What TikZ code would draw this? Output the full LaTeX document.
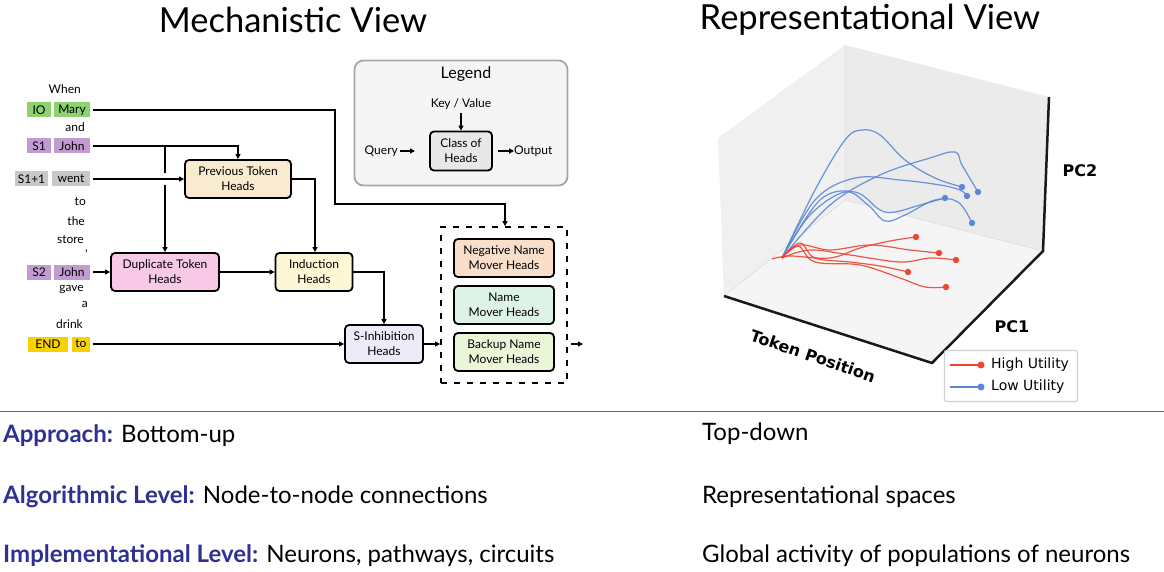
\documentclass[tikz,border=0pt]{standalone}
\usepackage{fontspec}
\setmainfont{Lato}
\newfontfamily\plotfont{DejaVu Sans}
\usetikzlibrary{arrows.meta}
\definecolor{hdblue}{HTML}{2E3192}
\definecolor{iogreen}{HTML}{8DD26E}
\definecolor{spurple}{HTML}{C39BD3}
\definecolor{sgrey}{HTML}{C8C8C8}
\definecolor{endyel}{HTML}{F7D100}
\definecolor{redc}{HTML}{EE4433}
\definecolor{bluec}{HTML}{5A88D6}
\definecolor{fprev}{HTML}{F8EBD0}
\definecolor{fdup}{HTML}{F7C9E6}
\definecolor{find}{HTML}{FEF7D6}
\definecolor{finh}{HTML}{ECEBF7}
\definecolor{fneg}{HTML}{F9DECA}
\definecolor{fname}{HTML}{DDF3E8}
\definecolor{fback}{HTML}{EBF5D8}
\tikzset{
  x=1pt,y=-1pt,
  tok/.style={inner sep=0pt,minimum height=15pt,font=\fontsize{12}{13}\selectfont},
  word/.style={inner sep=0pt,anchor=east,font=\fontsize{12}{13}\selectfont},
  head/.style={draw=black,line width=1.8pt,rounded corners=4pt,align=center,inner sep=0pt,font=\fontsize{12}{15}\selectfont},
  conn/.style={line width=1.4pt,-{Triangle[length=5pt,width=5pt]}},
  plain/.style={line width=1.4pt},
  body/.style={anchor=west,inner sep=0pt,font=\fontsize{24}{28}\selectfont},
  curveR/.style={redc,line width=1.2pt,opacity=0.9},
  curveB/.style={bluec,line width=1.2pt,opacity=0.9},
  axl/.style={font=\plotfont\bfseries\fontsize{16}{18}\selectfont},
}
\begin{document}
\begin{tikzpicture}
\useasboundingbox (0,0) rectangle (1164,572);
% titles
\node[font=\fontsize{34.5}{40}\selectfont] (t1) at (293,20) {Mechanistic View};
\node[font=\fontsize{34.5}{40}\selectfont] (t2) at (870,20) {Representational View};
% tokens
\node[word] (w1) at (81,89) {When};
\node[tok,fill=iogreen,minimum width=24pt] (io) at (39,110) {IO};
\node[tok,fill=iogreen,minimum width=36pt] (mary) at (72,110) {Mary};
\node[word] (w2) at (85,127) {and};
\node[tok,fill=spurple,minimum width=24pt] (s1) at (39,146) {S1};
\node[tok,fill=spurple,minimum width=36pt] (john1) at (72,146) {John};
\node[tok,fill=sgrey,minimum width=33pt] (s11) at (31.5,179) {S1+1};
\node[tok,fill=sgrey,minimum width=38pt] (went) at (71,179) {went};
\node[word] (w3) at (86,202) {to};
\node[word] (w4) at (85,221) {the};
\node[word] (w5) at (84,240) {store};
\node[word] (w6) at (88,252) {,};
\node[tok,fill=spurple,minimum width=24pt] (s2) at (39,272) {S2};
\node[tok,fill=spurple,minimum width=36pt] (john2) at (72,272) {John};
\node[word] (w7) at (84,290) {gave};
\node[word] (w8) at (88,304) {a};
\node[word] (w9) at (83,324) {drink};
\node[tok,fill=endyel,minimum width=40pt] (endt) at (48,344) {END};
\node[tok,fill=endyel,minimum width=18pt] (tot) at (81,344) {to};
% heads
\node[head,fill=fprev,minimum width=106pt,minimum height=38pt] (prev) at (238,179) {Previous Token\\Heads};
\node[head,fill=fdup,minimum width=108pt,minimum height=38pt] (dup) at (165,272) {Duplicate Token\\Heads};
\node[head,fill=find,minimum width=77pt,minimum height=38pt] (ind) at (314,272) {Induction\\Heads};
\node[head,fill=finh,minimum width=78pt,minimum height=38pt] (inh) at (384,344) {S-Inhibition\\Heads};
\node[draw=black,line width=1.8pt,dash pattern=on 6pt off 7pt,minimum width=126pt,minimum height=156pt,inner sep=0pt] (grp) at (504,305) {};
\node[head,fill=fneg,minimum width=100pt,minimum height=38pt] (neg) at (504,258) {Negative Name\\Mover Heads};
\node[head,fill=fname,minimum width=100pt,minimum height=38pt] (nm) at (504,305) {Name\\Mover Heads};
\node[head,fill=fback,minimum width=100pt,minimum height=38pt] (bk) at (504,352) {Backup Name\\Mover Heads};
\coordinate (outp) at (583,344);
% connectors
\draw[conn] (mary.east) ++(3,0) -- (335,110) -- (335,204) -- (505,204) -- (grp.north -| 505,0);
\draw[plain] (john1.east) ++(3,0) -- (165,146);
\draw[conn] (165,146) -- (238,146) -- (prev.north);
\draw[plain] (165,146) -- (165,173);
\draw[conn] (165,185) -- (dup.north);
\draw[conn] (went.east) ++(3,0) -- (prev.west);
\draw[conn] (prev.east) -- (315,179) -- (ind.north -| 315,0);
\draw[conn] (john2.east) ++(3,0) -- (dup.west);
\draw[conn] (dup.east) -- (ind.west);
\draw[conn] (ind.east) -- (384,272) -- (inh.north);
\draw[conn] (tot.east) ++(3,0) -- (inh.west);
\draw[conn] (inh.east) -- (grp.west |- inh.east);
\draw[conn] (grp.east |- outp) ++(3,0) -- (outp);
% legend
\node[draw=black!35,line width=1.8pt,rounded corners=9pt,fill=black!4,minimum width=213pt,minimum height=125pt,inner sep=0pt] (leg) at (461,123) {};
\node[font=\fontsize{16}{18}\selectfont] (legt) at (466,74) {Legend};
\node[font=\fontsize{12}{14}\selectfont] (kv) at (461,104) {Key / Value};
\node[head,fill=black!9,minimum width=62pt,minimum height=39pt] (cls) at (461,151) {Class of\\Heads};
\node[font=\fontsize{12}{14}\selectfont,anchor=east,inner sep=0pt] (qry) at (398,151) {Query};
\node[font=\fontsize{12}{14}\selectfont,anchor=west,inner sep=0pt] (outl) at (514,151) {Output};
\draw[conn] (kv.south) -- (cls.north);
\draw[conn] (qry.east) ++(2,0) -- (415,151);
\draw[conn] (cls.east) ++(5,0) -- (outl.west);
% 3D plot panes
\fill[black!6] (718,138) -- (845,45) -- (845,200) -- (724,296) -- cycle;
\fill[black!8] (845,45) -- (1049,97) -- (1043,251) -- (845,200) -- cycle;
\fill[black!4] (724,296) -- (845,200) -- (1043,251) -- (932,363) -- cycle;
\draw[black!15,line width=0.5pt] (845,45) -- (845,200) -- (724,296) (845,200) -- (1043,251);
\draw[black!90,line width=2.5pt] (724,296) -- (932,363) -- (1043,251) -- (1049,97);
% blue curves
\draw[curveB] plot[smooth,tension=0.6] coordinates {(782,258) (815,190) (845,140) (862,130) (880,135) (905,160) (935,178) (962,187)};
\draw[curveB] plot[smooth,tension=0.6] coordinates {(782,258) (830,205) (880,175) (930,158) (955,152) (962,165) (978,192)};
\draw[curveB] plot[smooth,tension=0.6] coordinates {(782,258) (815,200) (855,178) (900,180) (940,185) (960,190) (967,196)};
\draw[curveB] plot[smooth,tension=0.6] coordinates {(782,258) (820,200) (855,192) (880,210) (895,212) (920,205) (945,198)};
\draw[curveB] plot[smooth,tension=0.6] coordinates {(782,258) (810,215) (845,192) (868,205) (885,221) (905,215) (935,200) (958,202) (972,223)};
\foreach \p in {(962,187),(978,192),(967,196),(945,198),(972,223)} \fill[bluec] \p circle (3.2pt);
% red curves
\draw[curveR] plot[smooth,tension=0.6] coordinates {(772,259) (790,256) (830,258) (860,248) (890,241) (916,237)};
\draw[curveR] plot[smooth,tension=0.6] coordinates {(782,258) (800,245) (830,250) (870,245) (910,250) (939,253)};
\draw[curveR] plot[smooth,tension=0.6] coordinates {(782,258) (810,250) (850,255) (900,262) (930,258) (956,260)};
\draw[curveR] plot[smooth,tension=0.6] coordinates {(782,258) (800,243) (815,258) (850,262) (880,266) (908,272)};
\draw[curveR] plot[smooth,tension=0.6] coordinates {(782,258) (798,246) (815,262) (860,265) (900,278) (925,287) (946,287)};
\foreach \p in {(916,237),(939,253),(956,260),(908,272),(946,287)} \fill[redc] \p circle (3.2pt);
% axis labels
\node[axl,rotate=-19] (tp) at (813,356) {Token Position};
\node[axl] (pc1) at (1012,327) {PC1};
\node[axl] (pc2) at (1080,171) {PC2};
% plot legend
\node[draw=black!18,line width=1.2pt,rounded corners=2pt,fill=white,minimum width=133pt,minimum height=51pt,inner sep=0pt] (pleg) at (1011,376) {};
\draw[redc,line width=1.2pt] (950,365) -- (981,365);
\fill[redc] (981,365) circle (3.5pt);
\draw[bluec,line width=1.2pt] (950,387) -- (981,387);
\fill[bluec] (981,387) circle (3.5pt);
\node[font=\plotfont\fontsize{14}{16}\selectfont,anchor=west,inner sep=0pt] (hu) at (991,365) {High Utility};
\node[font=\plotfont\fontsize{14}{16}\selectfont,anchor=west,inner sep=0pt] (lu) at (991,387) {Low Utility};
% bottom table
\draw[black!60,line width=0.8pt] (0,411) -- (1164,411);
\node[body] (a1) at (3,436) {\textcolor{hdblue}{\bfseries Approach:} Bottom-up};
\node[body] (a2) at (3,497) {\textcolor{hdblue}{\bfseries Algorithmic Level:} Node-to-node connections};
\node[body] (a3) at (3,556) {\textcolor{hdblue}{\bfseries Implementational Level:} Neurons, pathways, circuits};
\node[body] (b1) at (702,434) {Top-down};
\node[body] (b2) at (702,497) {Representational spaces};
\node[body] (b3) at (702,556) {Global activity of populations of neurons};
\end{tikzpicture}
\end{document}
